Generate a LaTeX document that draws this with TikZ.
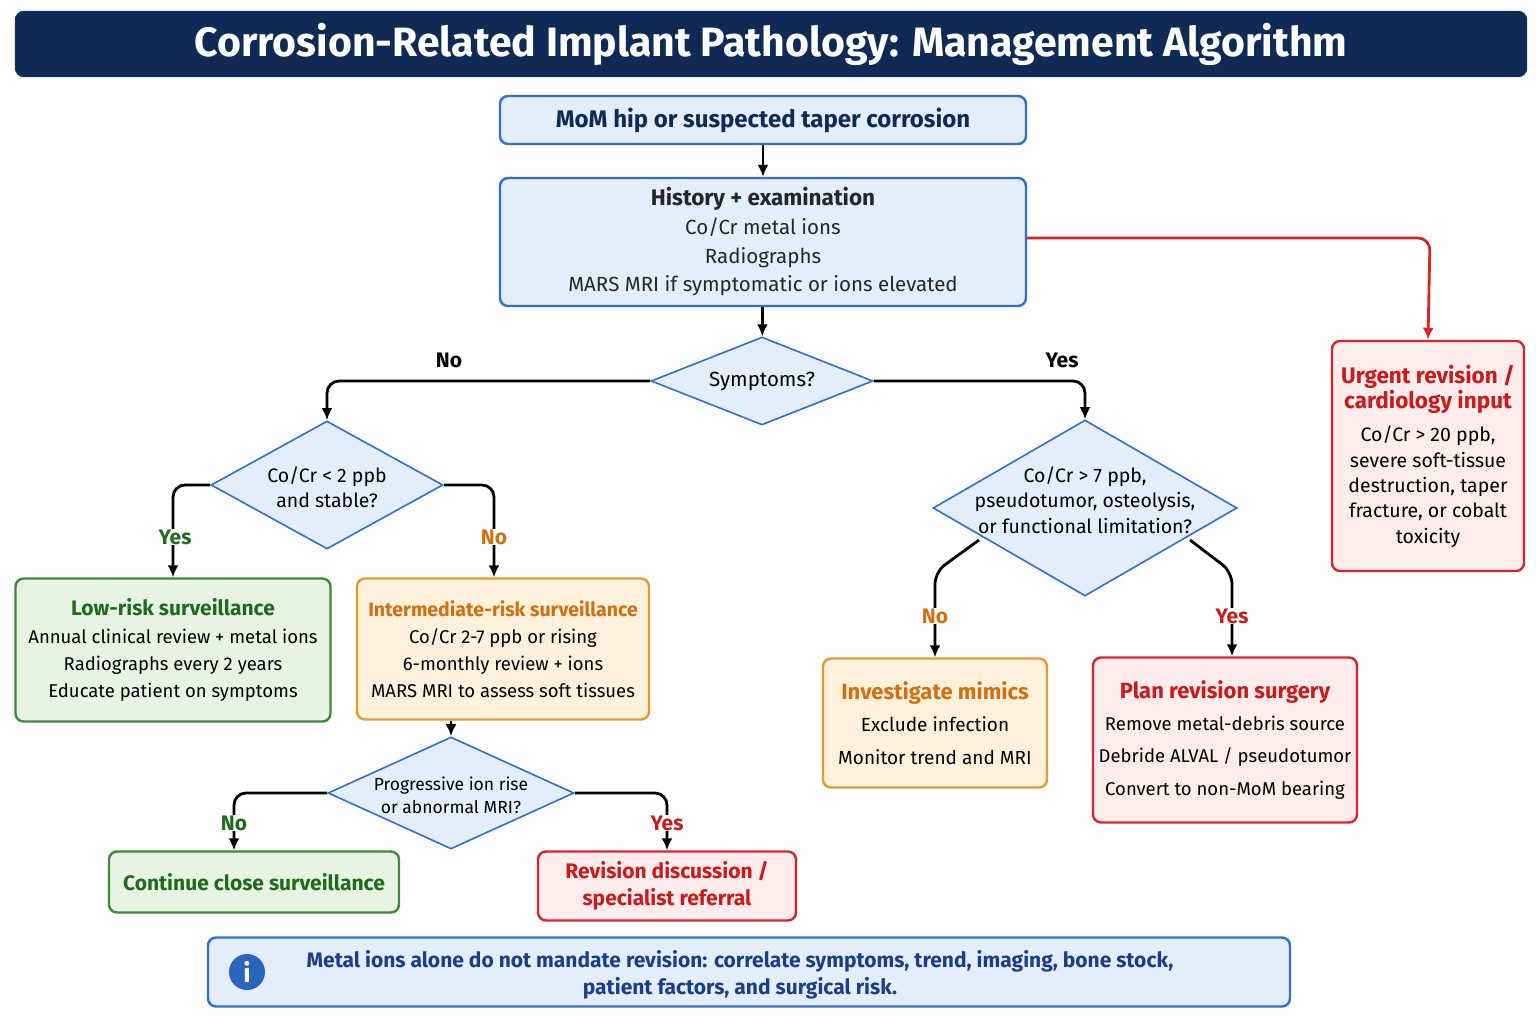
\documentclass[tikz,border=0pt]{standalone}
\usepackage{fontspec}
\setmainfont{Fira Sans}
\usetikzlibrary{shapes.geometric,arrows.meta}
\definecolor{navy}{HTML}{0F2A55}
\definecolor{bfill}{HTML}{E4EEFB}
\definecolor{bline}{HTML}{2F6FD0}
\definecolor{gfill}{HTML}{E8F3E4}
\definecolor{gline}{HTML}{3C8A3A}
\definecolor{gtext}{HTML}{1E6B1E}
\definecolor{ofill}{HTML}{FDF1DC}
\definecolor{oline}{HTML}{E39A2E}
\definecolor{otext}{HTML}{D2700F}
\definecolor{rfill}{HTML}{FDECEC}
\definecolor{rline}{HTML}{D9242B}
\definecolor{rtext}{HTML}{CC1A1A}
\definecolor{ntext}{HTML}{1A3E8C}
\newcommand{\fs}[1]{\fontsize{#1}{\dimexpr #1pt*13/10\relax}\selectfont}
\tikzset{
 box/.style={draw=#1, rounded corners=8pt, line width=2.4pt, align=center, inner sep=0pt},
 dia/.style={diamond, draw=bline, fill=bfill, line width=1.6pt, inner sep=0pt},
 dtext/.style={align=center, inner sep=0pt},
 arr/.style={-{Latex[length=12pt,width=11pt]}, line width=2.8pt, rounded corners=12pt},
 lab/.style={font=\fs{21}\bfseries},
}
\begin{document}
\begin{tikzpicture}[x=1pt,y=-1pt]
\useasboundingbox (0,0) rectangle (1536,1024);
\fill[white] (0,0) rectangle (1536,1024);
% title
\node[box=navy, fill=navy, minimum width=1510pt, minimum height=64pt, text=white, font=\fs{41}\bfseries] (title) at (771,44) {Corrosion-Related Implant Pathology: Management Algorithm};
\node[box=bline, fill=bfill, minimum width=526pt, minimum height=48pt, font=\fs{24}\bfseries, text=navy] (start) at (763,120) {MoM hip or suspected taper corrosion};
\node[box=bline, fill=bfill, minimum width=526pt, minimum height=128pt, font=\fs{20.5}, text=black!85] (hist) at (763,242) {{\fs{22.5}\bfseries History + examination}\\[2pt]Co/Cr metal ions\\[2pt]Radiographs\\[2pt]MARS MRI if symptomatic or ions elevated};
\node[dia, minimum width=222pt, minimum height=88pt, aspect=2.52] (sym) at (762,381) {};
\node[dtext, font=\fs{20.5}] (symt) at (762,381) {Symptoms?};
\node[box=rline, fill=rfill, minimum width=192pt, minimum height=230pt, font=\fs{19.5}] (urg) at (1428,456) {{\fs{22.5}\bfseries\color{rtext}Urgent revision /}\\{\fs{22.5}\bfseries\color{rtext}cardiology input}\\[8pt]Co/Cr > 20 ppb,\\severe soft-tissue\\destruction, taper\\fracture, or cobalt\\toxicity};
\node[dia, minimum width=232pt, minimum height=128pt, aspect=1.81] (dl) at (327,485) {};
\node[dtext, font=\fs{19.5}] (dlt) at (327,487) {Co/Cr < 2 ppb\\and stable?};
\node[dia, minimum width=304pt, minimum height=176pt, aspect=1.73] (dr) at (1085,508) {};
\node[dtext, font=\fs{19.5}] (drt) at (1085,500) {Co/Cr > 7 ppb,\\pseudotumor, osteolysis,\\or functional limitation?};
\node[box=gline, fill=gfill, minimum width=315pt, minimum height=143pt, font=\fs{18.5}] (low) at (173,650) {{\fs{21}\bfseries\color{gtext}Low-risk surveillance}\\[3pt]Annual clinical review + metal ions\\[3pt]Radiographs every 2 years\\[3pt]Educate patient on symptoms};
\node[box=oline, fill=ofill, minimum width=292pt, minimum height=141pt, font=\fs{18.5}] (mid) at (503,649) {{\fs{19.5}\bfseries\color{otext}Intermediate-risk surveillance}\\[3pt]Co/Cr 2-7 ppb or rising\\[3pt]6-monthly review + ions\\[3pt]MARS MRI to assess soft tissues};
\node[dia, minimum width=246pt, minimum height=112pt, aspect=2.2] (prog) at (451,793) {};
\node[dtext, font=\fs{17.5}] (progt) at (451,795) {Progressive ion rise\\or abnormal MRI?};
\node[box=gline, fill=gfill, minimum width=290pt, minimum height=61pt, font=\fs{21}\bfseries, text=gtext] (cont) at (254,882) {Continue close surveillance};
\node[box=rline, fill=rfill, minimum width=258pt, minimum height=69pt, font=\fs{21}\bfseries, text=rtext] (rev) at (667,886) {Revision discussion /\\specialist referral};
\node[box=oline, fill=ofill, minimum width=224pt, minimum height=129pt, font=\fs{19}] (inv) at (935,723) {{\fs{22}\bfseries\color{otext}Investigate mimics}\\[8pt]Exclude infection\\[8pt]Monitor trend and MRI};
\node[box=rline, fill=rfill, minimum width=264pt, minimum height=165pt, font=\fs{18.5}] (plan) at (1225,740) {{\fs{22}\bfseries\color{rtext}Plan revision surgery}\\[8pt]Remove metal-debris source\\[8pt]Debride ALVAL / pseudotumor\\[8pt]Convert to non-MoM bearing};
\node[box=bline, fill=bfill, minimum width=1082pt, minimum height=69pt] (note) at (749,972) {};
\node[dtext, font=\fs{21}\bfseries, text=ntext] (notet) at (740,975) {Metal ions alone do not mandate revision: correlate symptoms, trend, imaging, bone stock,\\patient factors, and surgical risk.};
\node[circle, fill=bline!85!navy, minimum size=36pt, inner sep=0pt, text=white, font=\fs{26}\bfseries] (info) at (247,972) {i};
% arrows
\draw[arr] (start) -- (hist);
\draw[arr] (hist) -- (sym);
\draw[arr, rline] (hist.east |- 0,238) -- (1430,238) -- (urg.north);
\draw[arr] (sym.west) -| (dl.north);
\draw[arr] (sym.east) -| (dr.north);
\node[lab] (lno) at (449,360) {No};
\node[lab] (lyes) at (1062,360) {Yes};
\draw[arr] (dl.west) -| (low.north);
\draw[arr] (dl.east) -| (mid.north -| 494,0);
\node[lab, text=gtext, fill=white, inner sep=1pt] at (175,537) {Yes};
\node[lab, text=otext, fill=white, inner sep=1pt] at (494,537) {No};
\coordinate (drl) at (979,540);
\coordinate (drr) at (1190,540);
\draw[arr] (drl) -- (935,572) -- (inv.north);
\draw[arr] (drr) -- (1232,572) -- (plan.north -| 1232,0);
\node[lab, text=otext, fill=white, inner sep=1pt] at (935,616) {No};
\node[lab, text=rtext, fill=white, inner sep=1pt] at (1232,616) {Yes};
\draw[arr] (mid.south -| prog.north) -- (prog.north);
\draw[arr] (prog.west) -| (cont.north -| 234,0);
\draw[arr] (prog.east) -| (rev.north);
\node[lab, text=gtext, fill=white, inner sep=1pt] at (234,823) {No};
\node[lab, text=rtext, fill=white, inner sep=1pt] at (667,823) {Yes};
\end{tikzpicture}
\end{document}
